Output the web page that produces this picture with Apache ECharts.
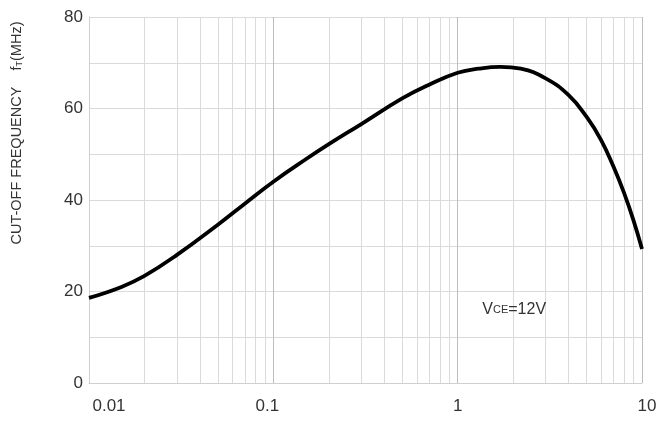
<!DOCTYPE html>
<html>
<head>
<meta charset="utf-8">
<script src="https://cdn.jsdelivr.net/npm/echarts@6/dist/echarts.min.js"></script>
<style>
html,body{margin:0;padding:0;background:#fff;}
#chart{width:656px;height:421px;}
</style>
</head>
<body>
<div id="chart"></div>
<script>
// Collector current (mA) vs cut-off frequency fT (MHz)
var currentMA = [0.01,0.015,0.02,0.03,0.05,0.07,0.1,0.15,0.2,0.3,0.5,0.7,1,1.3,1.7,2.2,3,4,5,6,7,8,9,10];
var cutoffMHz = [18.6,21.0,23.4,28.0,34.6,39.2,44.0,48.9,52.2,56.6,62.2,65.2,67.8,68.7,69.1,68.7,66.6,62.9,58.2,53.1,47.3,41.5,35.5,29.3];
var minorGridX = [0.02,0.03,0.04,0.05,0.06,0.07,0.08,0.09,0.2,0.3,0.4,0.5,0.6,0.7,0.8,0.9,2,3,4,5,6,7,8,9];
var xTickLabels = ['0.01','0.1','1','10'];
var yTickLabels = [0,20,40,60,80];
var annotation = {x: 1.36, y: 16};

var chart = echarts.init(document.getElementById('chart'));
var data = currentMA.map(function(x,i){return [x,cutoffMHz[i]];});
var FONT = '"Liberation Sans", Arial, sans-serif';

chart.setOption({
  animation:false,
  grid:{left:89,right:14,top:17,bottom:38,containLabel:false,outerBoundsMode:'none'},
  xAxis:{
    type:'log', logBase:10, min:0.01, max:10,
    axisLine:{show:true,lineStyle:{color:'#cfcfcf',width:1}},
    axisTick:{show:false},
    axisLabel:{color:'#333',fontSize:17,fontFamily:FONT,margin:15,hideOverlap:false,
      formatter:function(v){
        var s = String(+v.toPrecision(3));
        var i = xTickLabels.indexOf(s);
        return '{k'+i+'|'+s+'}';
      },
      rich:{
        k0:{fontSize:17,fontFamily:FONT,color:'#333',padding:[0,0,0,40]},
        k1:{fontSize:17,fontFamily:FONT,color:'#333',padding:[0,12,0,0]},
        k2:{fontSize:17,fontFamily:FONT,color:'#333'},
        k3:{fontSize:17,fontFamily:FONT,color:'#333',padding:[0,0,0,10]}
      }
    },
    splitLine:{show:true,lineStyle:{color:'#bdbdbd',width:1}}
  },
  yAxis:{
    type:'value', min:0, max:80, interval:10,
    axisLine:{show:true,lineStyle:{color:'#cfcfcf',width:1}},
    axisTick:{show:false},
    axisLabel:{color:'#333',fontSize:17,fontFamily:FONT,margin:6,
      formatter:function(v){return yTickLabels.indexOf(v)>=0?String(v):'';}},
    splitLine:{show:true,lineStyle:{color:'#dadada',width:1}}
  },
  series:[{
    type:'line', data:data, smooth:0.45, symbol:'none',
    lineStyle:{color:'#000',width:3.8},
    markLine:{
      silent:true, symbol:['none','none'], label:{show:false},
      lineStyle:{color:'#dadada',width:1,type:'solid'},
      animation:false,
      data:minorGridX.map(function(v){return {xAxis:v};})
    },
    z:5
  }],
  graphic:[
    {type:'text', x:17, y:133, rotation:Math.PI/2, z:10,
     style:{
       text:'{a|CUT-OFF FREQUENCY    f}{s|T}{a|(MHz)}',
       align:'center', verticalAlign:'middle',
       rich:{
         a:{fontSize:14.5,fontFamily:FONT,fill:'#333'},
         s:{fontSize:9,fontFamily:FONT,fill:'#333',verticalAlign:'bottom',padding:[6,0,0,0]}
       }
     }}
  ]
});

var p = chart.convertToPixel({gridIndex:0},[annotation.x,annotation.y]);
chart.setOption({graphic:[{},{
  type:'text', x:p[0], y:p[1], z:10,
  style:{
    text:'{v|V}{c|CE}{v|=12V}',
    align:'left', verticalAlign:'middle',
    rich:{
      v:{fontSize:16,fontFamily:FONT,fill:'#333'},
      c:{fontSize:11,fontFamily:FONT,fill:'#333'}
    }
  }
}]});
</script>
</body>
</html>
